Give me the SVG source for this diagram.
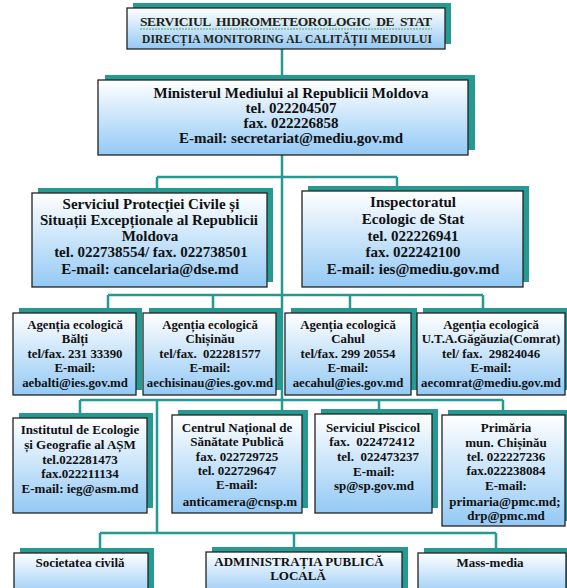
<svg xmlns="http://www.w3.org/2000/svg" width="567" height="588" viewBox="0 0 567 588">
<defs>
<linearGradient id="g" x1="0" y1="0" x2="0" y2="1">
<stop offset="0" stop-color="#ffffff"/>
<stop offset="1" stop-color="#93c9f5"/>
</linearGradient>
<style>
.sh{fill:#259a93}
.bx{fill:url(#g);stroke:#222;stroke-width:1.3}
.c{fill:none;stroke:#259a93;stroke-width:2.5}
text{font-family:"Liberation Serif","Times New Roman",serif;font-weight:bold;fill:#111;text-anchor:middle;white-space:pre}
.t13{font-size:15px}
.t12{font-size:13px}
.t11{font-size:12.8px}
.tb{font-size:13px}
.tt{fill:#22220f}
.wv{fill:none;stroke:#3a9a3a;stroke-width:0.8;stroke-dasharray:2 1}
</style>
</defs>
<rect width="567" height="588" fill="#ffffff"/>
<g id="connectors">
<path class="c" d="M282 49 V413"/>
<path class="c" d="M157 177 H397 M157 177 V189 M397 177 V187"/>
<path class="c" d="M108 295 H483 M108 295 V309 M213 295 V309 M350 295 V309 M483 295 V309"/>
<path class="c" d="M80 400 H503 M80 400 V414 M379 400 V410 M503 400 V411"/>
<path class="c" d="M157 400 V533 M100 533 H496 M100 533 V548 M294 533 V548 M496 533 V548"/>
</g>
<g id="title">
<rect class="sh" x="133" y="3" width="318" height="41"/>
<rect class="bx" x="127" y="8" width="318" height="41"/>
<text class="tt" x="286" y="26" font-size="13.5" textLength="292" lengthAdjust="spacing" xml:space="preserve">SERVICIUL  HIDROMETEOROLOGIC  DE  STAT</text>
<path class="wv" d="M140 29 H432"/>
<text class="tt" x="287" y="43" font-size="11.5" textLength="290" lengthAdjust="spacing">DIRECȚIA MONITORING AL CALITĂȚII MEDIULUI</text>
</g>
<g id="ministerul">
<rect class="sh" x="105" y="75" width="370" height="75"/>
<rect class="bx" x="98" y="80" width="370" height="75"/>
<text class="t13" x="291" y="98">Ministerul Mediului al Republicii Moldova</text>
<text class="t13" x="291" y="113">tel. 022204507</text>
<text class="t13" x="291" y="128">fax. 022226858</text>
<text class="t13" x="291" y="143">E-mail: secretariat@mediu.gov.md</text>
</g>
<g id="protectia-civila">
<rect class="sh" x="38" y="188" width="235" height="94"/>
<rect class="bx" x="32" y="193" width="235" height="94"/>
<text class="t13" x="151" y="209">Serviciul Protecției Civile și</text>
<text class="t13" x="149" y="225">Situații Excepționale al Republicii</text>
<text class="t13" x="150" y="241">Moldova</text>
<text class="t13" x="151" y="257">tel. 022738554/ fax. 022738501</text>
<text class="t13" x="150" y="274">E-mail: cancelaria@dse.md</text>
</g>
<g id="inspectoratul">
<rect class="sh" x="308" y="186" width="221" height="96"/>
<rect class="bx" x="302" y="191" width="221" height="96"/>
<text class="t13" x="413" y="207">Inspectoratul</text>
<text class="t13" x="413" y="224">Ecologic de Stat</text>
<text class="t13" x="413" y="241">tel. 022226941</text>
<text class="t13" x="413" y="257">fax. 022242100</text>
<text class="t13" x="413" y="274">E-mail: ies@mediu.gov.md</text>
</g>
<g id="ae-balti">
<rect class="sh" x="19" y="308" width="123" height="82"/>
<rect class="bx" x="13" y="313" width="123" height="82"/>
<text class="t11" x="75" y="329">Agenția ecologică</text>
<text class="t11" x="75" y="343">Bălți</text>
<text class="t11" x="75" y="358">tel/fax. 231 33390</text>
<text class="t11" x="75" y="372">E-mail:</text>
<text class="t11" x="75" y="387">aebalti@ies.gov.md</text>
</g>
<g id="ae-chisinau">
<rect class="sh" x="149" y="308" width="133" height="82"/>
<rect class="bx" x="143" y="313" width="133" height="82"/>
<text class="t11" x="210" y="329">Agenția ecologică</text>
<text class="t11" x="210" y="343">Chișinău</text>
<text class="t11" x="210" y="358" xml:space="preserve">tel/fax.  022281577</text>
<text class="t11" x="210" y="372">E-mail:</text>
<text class="t11" x="210" y="387">aechisinau@ies.gov.md</text>
</g>
<g id="ae-cahul">
<rect class="sh" x="291" y="308" width="126" height="82"/>
<rect class="bx" x="285" y="313" width="126" height="82"/>
<text class="t11" x="348" y="329">Agenția ecologică</text>
<text class="t11" x="348" y="343">Cahul</text>
<text class="t11" x="348" y="358">tel/fax. 299 20554</text>
<text class="t11" x="348" y="372">E-mail:</text>
<text class="t11" x="348" y="387">aecahul@ies.gov.md</text>
</g>
<g id="ae-comrat">
<rect class="sh" x="423" y="308" width="148" height="82"/>
<rect class="bx" x="417" y="313" width="148" height="82"/>
<text class="t11" x="491" y="329">Agenția ecologică</text>
<text class="t11" x="491" y="343">U.T.A.Găgăuzia(Comrat)</text>
<text class="t11" x="491" y="358" xml:space="preserve">tel/ fax.  29824046</text>
<text class="t11" x="491" y="372">E-mail:</text>
<text class="t11" x="491" y="387">aecomrat@mediu.gov.md</text>
</g>
<g id="institutul">
<rect class="sh" x="19" y="413" width="134" height="95"/>
<rect class="bx" x="13" y="418" width="134" height="95"/>
<text class="t12" x="80" y="434">Institutul de Ecologie</text>
<text class="t12" x="80" y="449">și Geografie al AȘM</text>
<text class="t12" x="80" y="464">tel.022281473</text>
<text class="t12" x="80" y="478">fax.022211134</text>
<text class="t12" x="80" y="493">E-mail: ieg@asm.md</text>
</g>
<g id="cnsp">
<rect class="sh" x="178" y="410" width="130" height="98"/>
<rect class="bx" x="172" y="415" width="130" height="98"/>
<text class="t12" x="237" y="432">Centrul Național de</text>
<text class="t12" x="237" y="446">Sănătate Publică</text>
<text class="t12" x="237" y="461">fax. 022729725</text>
<text class="t12" x="237" y="475">tel. 022729647</text>
<text class="t12" x="237" y="489">E-mail:</text>
<text class="t12" x="240" y="506">anticamera@cnsp.m</text>
</g>
<g id="piscicol">
<rect class="sh" x="321" y="409" width="117" height="99"/>
<rect class="bx" x="315" y="414" width="117" height="99"/>
<text class="t12" x="373" y="432">Serviciul Piscicol</text>
<text class="t12" x="372" y="446" xml:space="preserve">fax.  022472412</text>
<text class="t12" x="378" y="461" xml:space="preserve">tel.  022473237</text>
<text class="t12" x="374" y="476">E-mail:</text>
<text class="t12" x="374" y="490">sp@sp.gov.md</text>
</g>
<g id="primaria">
<rect class="sh" x="448" y="410" width="123" height="111"/>
<rect class="bx" x="442" y="415" width="123" height="111"/>
<text class="t12" x="506" y="432">Primăria</text>
<text class="t12" x="506" y="447">mun. Chișinău</text>
<text class="t12" x="506" y="461">tel. 022227236</text>
<text class="t12" x="506" y="475">fax.022238084</text>
<text class="t12" x="506" y="490">E-mail:</text>
<text class="t12" x="505" y="506">primaria@pmc.md;</text>
<text class="t12" x="506" y="520">drp@pmc.md</text>
</g>
<g id="societatea-civila">
<rect class="sh" x="20" y="548" width="134" height="45"/>
<rect class="bx" x="14" y="553" width="134" height="45"/>
<text class="tb" x="80" y="567">Societatea civilă</text>
</g>
<g id="apl">
<rect class="sh" x="212" y="547" width="196" height="45"/>
<rect class="bx" x="206" y="552" width="196" height="45"/>
<text class="tb" x="299" y="566">ADMINISTRAȚIA PUBLICĂ</text>
<text class="tb" x="298" y="580">LOCALĂ</text>
</g>
<g id="mass-media">
<rect class="sh" x="424" y="548" width="148" height="45"/>
<rect class="bx" x="418" y="553" width="148" height="45"/>
<text class="tb" x="490" y="567">Mass-media</text>
</g>
</svg>
